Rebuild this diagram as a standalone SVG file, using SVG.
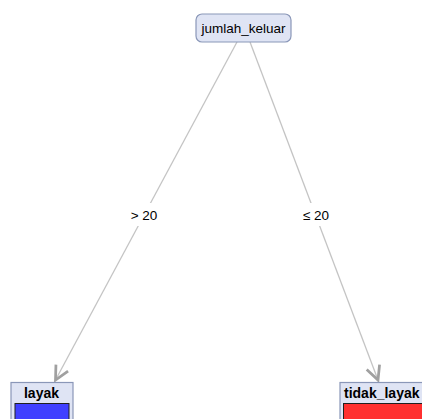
<svg xmlns="http://www.w3.org/2000/svg" width="422" height="419" viewBox="0 0 422 419">
<style>
.node{fill:#dfe4f4;stroke:#8a97b8;stroke-width:1.2}
.t{font-family:"Liberation Sans",Arial,sans-serif;font-size:13.5px;fill:#000}
.b{font-weight:bold;font-size:14px}
.edge{stroke:#c4c4c4;stroke-width:1.3;fill:none}
.lbl{fill:#ffffff}
</style>
<defs>
<marker id="arr" markerUnits="userSpaceOnUse" markerWidth="20" markerHeight="20" refX="0" refY="0" viewBox="-14 -8 16 16" orient="auto">
<path d="M-11,-5.5 L0,0 L-11,5.5" fill="none" stroke="#a0a0a0" stroke-width="2.2"/>
</marker>
</defs>
<rect width="422" height="419" fill="#ffffff"/>
<g id="connectors">
<line class="edge" x1="237" y1="42" x2="55.5" y2="380" marker-end="url(#arr)"/>
<line class="edge" x1="250" y1="42" x2="378" y2="380" marker-end="url(#arr)"/>
<rect class="lbl" x="128" y="203" width="32" height="23"/>
<rect class="lbl" x="299" y="203" width="34" height="23"/>
<text class="t" x="144" y="220" text-anchor="middle">&gt; 20</text>
<text class="t" x="316" y="220" text-anchor="middle">≤ 20</text>
</g>
<g id="node-jumlah_keluar">
<rect class="node" x="196" y="14" width="95" height="28" rx="6"/>
<text class="t" x="243.5" y="33" text-anchor="middle">jumlah_keluar</text>
</g>
<g id="node-layak">
<rect class="node" x="11" y="382.5" width="62" height="40"/>
<text class="t b" x="41.5" y="398" text-anchor="middle">layak</text>
<rect x="15" y="403.5" width="54" height="20" fill="#4040ff" stroke="#202020" stroke-width="1"/>
</g>
<g id="node-tidak_layak">
<rect class="node" x="340" y="382.5" width="90" height="40"/>
<text class="t b" x="344" y="398">tidak_layak</text>
<rect x="343.5" y="403.5" width="84" height="20" fill="#ff3030" stroke="#202020" stroke-width="1"/>
</g>
</svg>
